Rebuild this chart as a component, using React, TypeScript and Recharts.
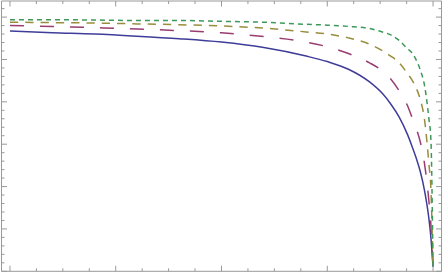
import { LineChart, Line, XAxis, YAxis } from 'recharts';

const xs = [0, 0.1, 0.2, 0.3, 0.4, 0.5, 0.6, 0.7, 0.75, 0.8, 0.85, 0.88, 0.9, 0.92, 0.94, 0.95, 0.96, 0.97, 0.98, 0.99, 0.995, 1.0];

const blue = [0.567, 0.563, 0.56, 0.555, 0.549, 0.541, 0.528, 0.508, 0.495, 0.477, 0.447, 0.42, 0.395, 0.364, 0.322, 0.296, 0.268, 0.235, 0.19, 0.126, 0.079, 0.01];
const purple = [0.58, 0.578, 0.575, 0.572, 0.568, 0.563, 0.554, 0.541, 0.53, 0.514, 0.492, 0.473, 0.454, 0.426, 0.39, 0.364, 0.338, 0.305, 0.253, 0.168, 0.109, 0.01];
const olive = [0.588, 0.587, 0.586, 0.584, 0.582, 0.579, 0.574, 0.565, 0.56, 0.551, 0.536, 0.521, 0.508, 0.492, 0.466, 0.452, 0.433, 0.405, 0.357, 0.256, 0.192, 0.01];
const green = [0.594, 0.594, 0.593, 0.592, 0.592, 0.59, 0.588, 0.583, 0.581, 0.578, 0.573, 0.565, 0.558, 0.545, 0.525, 0.516, 0.499, 0.475, 0.438, 0.362, 0.31, 0.01];

const xTicks = [0, 0.0625, 0.125, 0.1875, 0.25, 0.3125, 0.375, 0.4375, 0.5, 0.5625, 0.625, 0.6875, 0.75, 0.8125, 0.875, 0.9375, 1];
const xMajor = [0, 0.25, 0.5, 0.75, 1];
const yTicks = [0, 0.02, 0.04, 0.06, 0.08, 0.1, 0.12, 0.14, 0.16, 0.18, 0.2, 0.22, 0.24, 0.26, 0.28, 0.3, 0.32, 0.34, 0.36, 0.38, 0.4, 0.42, 0.44, 0.46, 0.48, 0.5, 0.52, 0.54, 0.56, 0.58, 0.6, 0.62];
const yMajor = [0, 0.1, 0.2, 0.3, 0.4, 0.5, 0.6];

const data = xs.map((x, i) => ({ x, blue: blue[i], purple: purple[i], olive: olive[i], green: green[i] }));

const FRAME = '#999999';
const isMajor = (v: number, list: number[]) => list.some((m) => Math.abs(m - v) < 1e-6);

// inward tick marks, Mathematica-style frame
const makeTick = (side: 'bottom' | 'top' | 'left' | 'right') => (props: any) => {
  const { x, y, payload } = props;
  const major = side === 'bottom' || side === 'top' ? isMajor(payload.value, xMajor) : isMajor(payload.value, yMajor);
  const len = major ? 5.5 : 3;
  let x2 = x, y2 = y;
  if (side === 'bottom') y2 = y - len;
  if (side === 'top') y2 = y + len;
  if (side === 'left') x2 = x + len;
  if (side === 'right') x2 = x - len;
  return <line x1={x} y1={y} x2={x2} y2={y2} stroke={FRAME} strokeWidth={1} />;
};

export default function App() {
  return (
    <div style={{ position: 'absolute', left: 0, top: 0, background: '#fff' }}>
      <LineChart width={444} height={274} data={data} margin={{ top: 0, right: 1.5, bottom: 1.7, left: 0.5 }}>
        <XAxis xAxisId="b" dataKey="x" type="number" domain={[-0.02, 1.02]} allowDataOverflow ticks={xTicks} interval={0}
          height={1} tickSize={0} tickMargin={0} tickLine={false} axisLine={{ stroke: FRAME }} tick={makeTick('bottom')} />
        <XAxis xAxisId="t" orientation="top" dataKey="x" type="number" domain={[-0.02, 1.02]} allowDataOverflow ticks={xTicks} interval={0}
          height={1} tickSize={0} tickMargin={0} tickLine={false} axisLine={{ stroke: FRAME }} tick={makeTick('top')} />
        <YAxis yAxisId="l" type="number" domain={[0, 0.638]} allowDataOverflow ticks={yTicks} interval={0}
          width={1} tickSize={0} tickMargin={0} tickLine={false} axisLine={{ stroke: FRAME }} tick={makeTick('left')} />
        <YAxis yAxisId="r" orientation="right" type="number" domain={[0, 0.638]} allowDataOverflow ticks={yTicks} interval={0}
          width={1} tickSize={0} tickMargin={0} tickLine={false} axisLine={{ stroke: FRAME }} tick={makeTick('right')} />
        <Line xAxisId="b" yAxisId="l" type="monotone" dataKey="blue" stroke="#3f3d99" strokeWidth={1.5} dot={false} isAnimationActive={false} />
        <Line xAxisId="b" yAxisId="l" type="monotone" dataKey="purple" stroke="#993d71" strokeWidth={1.5} strokeDasharray="14 16" dot={false} isAnimationActive={false} />
        <Line xAxisId="b" yAxisId="l" type="monotone" dataKey="olive" stroke="#998d3d" strokeWidth={1.5} strokeDasharray="8.3 7" dot={false} isAnimationActive={false} />
        <Line xAxisId="b" yAxisId="l" type="monotone" dataKey="green" stroke="#3d9959" strokeWidth={1.5} strokeDasharray="5 4" dot={false} isAnimationActive={false} />
      </LineChart>
    </div>
  );
}
